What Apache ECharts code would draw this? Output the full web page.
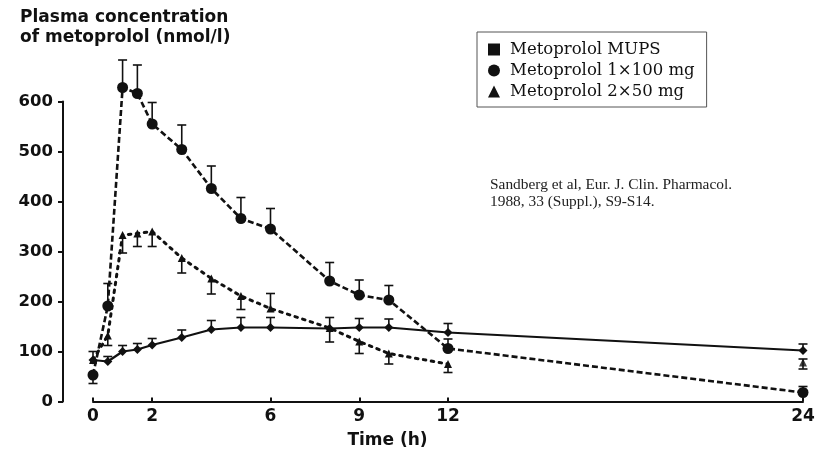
<!DOCTYPE html>
<html>
<head>
<meta charset="utf-8">
<script src="https://cdn.jsdelivr.net/npm/echarts@6/dist/echarts.min.js"></script>
<style>
html,body{margin:0;padding:0;background:#fff;}
#chart{width:826px;height:456px;}
</style>
</head>
<body>
<div id="chart"></div>
<script>
// ---- data ----
const times = [0, 0.5, 1, 1.5, 2, 3, 4, 5, 6, 8, 9, 10, 12, 24];
const xTickValues = [0, 2, 6, 9, 12, 24];

const mupsName = 'Metoprolol MUPS';
const mups   = [83, 80, 100, 104, 113, 128, 144, 148, 148, 146, 148, 148, 138, 102];
const mupsHi = [100, 90, 112, 116, 126, 143, 162, 168, 168, 168, 166, 165, 156, 115];
const mupsLo = [null, null, null, null, null, null, null, null, null, null, null, null, null, null];

const ivName = 'Metoprolol 1×100 mg';
const iv   = [53, 191, 628, 616, 555, 504, 426, 366, 345, 241, 213, 203, 106, 18];
const ivHi = [null, 236, 683, 673, 598, 553, 471, 408, 386, 278, 243, 232, 125, 30];
const ivLo = [36, null, null, null, null, null, null, null, null, null, null, null, null, null];

const biName = 'Metoprolol 2×50 mg';
const bi   = [83, 132, 333, 336, 340, 287, 246, 211, 186, 147, 120, 96, 75, 78];
const biHi = [null, null, null, null, null, null, null, null, 216, null, null, null, null, 85];
const biLo = [null, 112, 297, 310, 310, 257, 215, 184, null, 119, 96, 75, 58, 65];
const biLineEnd = 12; // dotted line is drawn only up to 12 h

const yTitle = 'Plasma concentration\nof metoprolol (nmol/l)';
const xTitle = 'Time (h)';
const citation = 'Sandberg et al, Eur. J. Clin. Pharmacol.\n1988, 33 (Suppl.), S9-S14.';

// ---- helpers ----
function pts(vals) { return times.map((t, i) => [t, vals[i]]); }
function errData(vals, hi, lo) {
  const out = [];
  times.forEach((t, i) => {
    if (hi[i] != null) out.push([t, vals[i], hi[i]]);
    if (lo[i] != null) out.push([t, vals[i], lo[i]]);
  });
  return out;
}
function errSeries(data) {
  return {
    type: 'custom',
    data: data,
    encode: { x: 0, y: [1, 2] },
    clip: false,
    silent: true,
    z: 1,
    renderItem: function (params, api) {
      const p0 = api.coord([api.value(0), api.value(1)]);
      const p1 = api.coord([api.value(0), api.value(2)]);
      const st = { stroke: '#111', lineWidth: 1.6 };
      return {
        type: 'group',
        children: [
          { type: 'line', shape: { x1: p0[0], y1: p0[1], x2: p1[0], y2: p1[1] }, style: st },
          { type: 'line', shape: { x1: p1[0] - 4.5, y1: p1[1], x2: p1[0] + 4.5, y2: p1[1] }, style: st }
        ]
      };
    }
  };
}

const black = '#111';
const chart = echarts.init(document.getElementById('chart'), null, { renderer: 'canvas' });

const option = {
  backgroundColor: '#fff',
  animation: false,
  title: [
    {
      text: yTitle, left: 20, top: 8, padding: 0,
      textStyle: { fontFamily: 'DejaVu Sans', fontWeight: 'bold', fontSize: 17, lineHeight: 20, color: black }
    },
    {
      text: citation, left: 490, top: 176, padding: 0,
      textStyle: { fontFamily: 'Liberation Serif', fontWeight: 'normal', fontSize: 15.4, lineHeight: 17, color: '#222' }
    }
  ],
  legend: {
    orient: 'vertical',
    left: 477, top: 32,
    padding: [9, 12, 7, 11],
    itemGap: 4,
    itemWidth: 12, itemHeight: 12,
    borderColor: '#555', borderWidth: 1,
    selectedMode: false,
    textStyle: { fontFamily: 'DejaVu Serif', fontSize: 16.5, color: black, padding: [0, 0, 0, 5] },
    data: [
      { name: mupsName, icon: 'rect', itemStyle: { color: black } },
      { name: ivName, icon: 'circle', itemStyle: { color: black } },
      { name: biName, icon: 'triangle', itemStyle: { color: black } }
    ]
  },
  grid: { left: 93, right: 23, top: 101.5, bottom: 54.5 },
  xAxis: {
    type: 'value', min: 0, max: 24,
    name: xTitle, nameLocation: 'middle', nameGap: 31,
    nameTextStyle: { fontFamily: 'DejaVu Sans', fontWeight: 'bold', fontSize: 17, color: black, padding: [0, 121, 0, 0] },
    axisLine: { show: true, onZero: false, lineStyle: { color: black, width: 2 } },
    axisTick: { show: true, inside: true, length: 4, customValues: xTickValues, lineStyle: { color: black, width: 2 } },
    axisLabel: { customValues: xTickValues, margin: 7, fontFamily: 'DejaVu Sans', fontWeight: 'bold', fontSize: 17, color: black },
    splitLine: { show: false }
  },
  yAxis: {
    type: 'value', min: 0, max: 600, interval: 100,
    offset: 30,
    axisLine: { show: true, onZero: false, lineStyle: { color: black, width: 2 } },
    axisTick: { show: true, inside: false, length: 5, lineStyle: { color: black, width: 2 } },
    axisLabel: { margin: 10, fontFamily: 'DejaVu Sans', fontWeight: 'bold', fontSize: 16.5, color: black },
    splitLine: { show: false }
  },
  series: [
    errSeries(errData(mups, mupsHi, mupsLo)),
    errSeries(errData(iv, ivHi, ivLo)),
    errSeries(errData(bi, biHi, biLo)),
    {
      name: mupsName, type: 'line', data: pts(mups), clip: false, z: 3,
      symbol: 'diamond', symbolSize: 9,
      lineStyle: { color: black, width: 2.2 },
      itemStyle: { color: black }
    },
    {
      name: ivName, type: 'line', data: pts(iv), clip: false, z: 3,
      symbol: 'circle', symbolSize: 11,
      lineStyle: { color: black, width: 2.6, type: [6, 3] },
      itemStyle: { color: black }
    },
    {
      name: biName, type: 'line', data: pts(bi).filter(p => p[0] <= biLineEnd), clip: false, z: 3,
      symbol: 'triangle', symbolSize: 8,
      lineStyle: { color: black, width: 3, type: [2.5, 5.5], cap: 'round' },
      itemStyle: { color: black }
    },
    {
      name: biName, type: 'scatter', data: pts(bi).filter(p => p[0] > biLineEnd), clip: false, z: 3,
      symbol: 'triangle', symbolSize: 8,
      itemStyle: { color: black }
    }
  ]
};
chart.setOption(option);
</script>
</body>
</html>
